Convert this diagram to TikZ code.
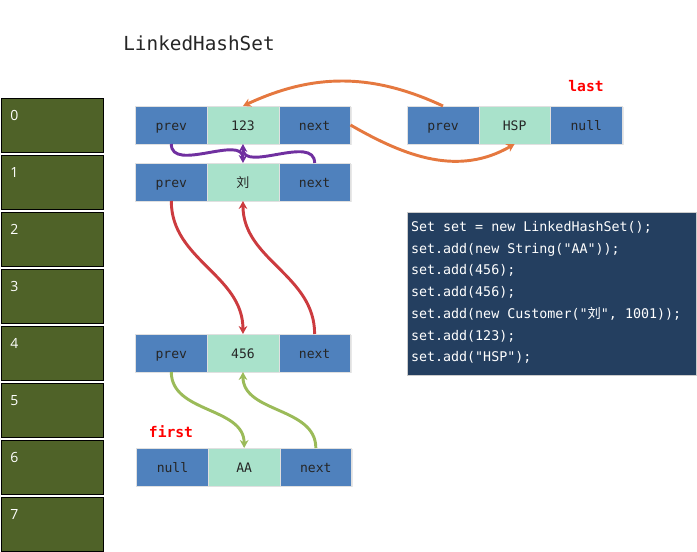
\documentclass[tikz,border=0pt]{standalone}
\usepackage{fontspec}
\setmainfont{Open Sans}
\setmonofont{DejaVu Sans Mono}
\newfontfamily\cjk{Noto Sans CJK SC}
\usetikzlibrary{positioning, arrows.meta, shadows}

\definecolor{cellblu}{HTML}{4F81BD}
\definecolor{cellverde}{HTML}{A9E2CB}
\definecolor{oliva}{HTML}{4F6228}
\definecolor{fondocod}{HTML}{243F60}
\definecolor{arancio}{HTML}{E5783F}
\definecolor{viola}{HTML}{7030A0}
\definecolor{rosso}{HTML}{CC3B3F}
\definecolor{verdel}{HTML}{9BBB59}

\tikzset{
  cella/.style     = {rectangle, draw=black!12, fill=cellblu, minimum width=53.75pt, minimum height=28.5pt,
                      inner sep=0pt, outer sep=0pt, text=black!85, font=\fontsize{9.8}{11}\selectfont\ttfamily,
                      text height=10pt, text depth=1.6pt,
                      drop shadow={shadow xshift=1pt, shadow yshift=-1pt, opacity=.18}},
  valore/.style    = {cella, fill=cellverde},
  bucket/.style    = {rectangle, draw=black, fill=oliva, minimum width=76.5pt, minimum height=40.5pt, inner sep=0pt, outer sep=0pt},
  bnum/.style      = {anchor=north west, inner sep=0pt, text=white, font=\fontsize{10.5}{12}\selectfont, xshift=6.75pt, yshift=-9pt},
  codbox/.style    = {rectangle, draw=black!20, fill=fondocod, minimum width=216.75pt, minimum height=122.25pt, inner sep=0pt},
  codtesto/.style  = {align=left, inner sep=0pt, text=white, font=\fontsize{10}{16.3}\selectfont\ttfamily},
  titolo/.style    = {font=\fontsize{14.5}{16}\selectfont\ttfamily, text=black!85},
  etich/.style     = {font=\fontsize{11}{13}\selectfont\ttfamily\bfseries, text=red},
  freccia/.style   = {line width=2.2pt, -{Stealth[length=6pt, width=6.5pt]}}
}

\begin{document}
\begin{tikzpicture}[x=0.75pt, y=-0.75pt, node distance=0pt]
  \useasboundingbox (0,0) rectangle (697,552);

  \node[titolo] (tit) at (199,43) {LinkedHashSet};

  % tabella
  \node[bucket, label={[bnum]north west:0}] (b0) at (52,125) {};
  \node[bucket, below=2.25pt of b0, label={[bnum]north west:1}] (b1) {};
  \node[bucket, below=2.25pt of b1, label={[bnum]north west:2}] (b2) {};
  \node[bucket, below=2.25pt of b2, label={[bnum]north west:3}] (b3) {};
  \node[bucket, below=2.25pt of b3, label={[bnum]north west:4}] (b4) {};
  \node[bucket, below=2.25pt of b4, label={[bnum]north west:5}] (b5) {};
  \node[bucket, below=2.25pt of b5, label={[bnum]north west:6}] (b6) {};
  \node[bucket, below=2.25pt of b6, label={[bnum]north west:7}] (b7) {};

  % nodo 123
  \node[cella] (prev123) at (171.3,125) {prev};
  \node[valore, right=of prev123] (v123)    {123};
  \node[cella, right=of v123]     (next123) {next};

  % nodo HSP (last)
  \node[cella] (prevHSP) at (443,125) {prev};
  \node[valore, right=of prevHSP] (vHSP)    {HSP};
  \node[cella, right=of vHSP]     (nullHSP) {null};
  \node[etich] (last) at (586,86) {last};

  % nodo Customer
  \node[cella] (prevLiu) at (171.3,182) {prev};
  \node[valore, right=of prevLiu] (vLiu)    {\cjk 刘};
  \node[cella, right=of vLiu]     (nextLiu) {next};

  % nodo 456
  \node[cella] (prev456) at (171.3,353) {prev};
  \node[valore, right=of prev456] (v456)    {456};
  \node[cella, right=of v456]     (next456) {next};

  % nodo AA (first)
  \node[cella] (nullAA) at (172.5,467) {null};
  \node[valore, right=of nullAA]  (vAA)     {AA};
  \node[cella, right=of vAA]      (nextAA)  {next};
  \node[etich] (first) at (171,432) {first};

  % codice
  \node[codbox] (codice) at (551.5,293.5) {};
  \node[codtesto, below right=7pt and 3pt of codice.north west] (testo) {%
    Set set = new LinkedHashSet();\\
    set.add(new String("AA"));\\
    set.add(456);\\
    set.add(456);\\
    set.add(new Customer("{\cjk 刘}", 1001));\\
    set.add(123);\\
    set.add("HSP");};

  \draw[freccia, arancio] (prevHSP.north) to[out=155, in=25]  (v123.north);
  \draw[freccia, arancio] (next123.east)  to[out=-30, in=-150] (vHSP.south);

  \draw[freccia, viola] (prev123.south) to[out=-90, in=90] (vLiu.north);
  \draw[freccia, viola] (nextLiu.north) to[out=90, in=-90] (v123.south);

  \draw[freccia, rosso] (prevLiu.south) to[out=-90, in=90] (v456.north);
  \draw[freccia, rosso] (next456.north) to[out=90, in=-90] (vLiu.south);

  \draw[freccia, verdel] (prev456.south) to[out=-90, in=90] (vAA.north);
  \draw[freccia, verdel] (nextAA.north)  to[out=90, in=-90] (v456.south);

\end{tikzpicture}
\end{document}
